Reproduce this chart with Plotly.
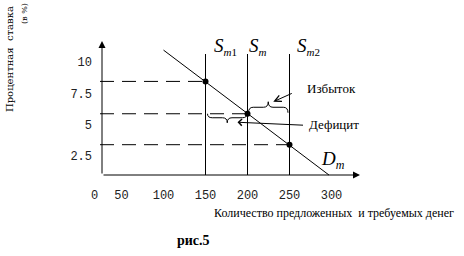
import plotly.graph_objects as go

# ---------------- data ----------------
supply_q = [150, 200, 250]                       # S_m1, S_m, S_m2
supply_subs = ["<i>m</i>1", "<i>m</i>", "<i>m</i>2"]
rate_at_supply = [8.45, 5.87, 3.40]              # points on the demand curve
demand_q = [100, 297]
demand_rate = [10.95, 0.98]
x_tickvals = [18, 50, 100, 150, 200, 250, 300]
x_ticktext = ["0", "50", "100", "150", "200", "250", "300"]
y_tickvals = [2.5, 5, 7.5, 10]
y_ticktext = ["2.5", "5", "7.5", "10"]

# ---------------- geometry helpers ----------------
W, H = 464, 256
L, R, T, B = 90, 0, 0, 76
X0PX, XS = 205.5, 0.84     # pixel of x=150, px per unit
Y0PX, YS = 62.0, 12.53     # pixel of y=10, px per unit

def vx(px): return 150 + (px - X0PX) / XS
def vy(py): return 10 - (py - Y0PX) / YS
def dx(p): return p / XS
def dy(p): return p / YS
def pxp(px): return (px - L) / (W - L - R)
def pyp(py): return (H - B - py) / (H - T - B)

axis_x = vx(102)
axis_y = vy(175)
top_lines = vy(54)

fig = go.Figure()
line_style = dict(color="black", width=1)

# demand curve
fig.add_trace(go.Scatter(x=demand_q, y=demand_rate, mode="lines", line=line_style, hoverinfo="skip"))
# supply verticals
for q in supply_q:
    fig.add_trace(go.Scatter(x=[q, q], y=[axis_y, top_lines], mode="lines", line=line_style, hoverinfo="skip"))
# dashed guides
for q, r in zip(supply_q, rate_at_supply):
    fig.add_trace(go.Scatter(x=[vx(100), q], y=[r, r], mode="lines",
                             line=dict(color="black", width=1, dash="14px,8px"), hoverinfo="skip"))
# points
fig.add_trace(go.Scatter(x=supply_q, y=rate_at_supply, mode="markers",
                         marker=dict(color="black", size=6), hoverinfo="skip"))

# braces
def brace(xa, xb, ye, ym, yc):
    w = xb - xa
    xm = (xa + xb) / 2
    k = 0.12 * w
    return (f"M{xa},{ye} Q{xa},{ym} {xa+k},{ym} L{xm-k},{ym} Q{xm},{ym} {xm},{yc} "
            f"Q{xm},{ym} {xm+k},{ym} L{xb-k},{ym} Q{xb},{ym} {xb},{ye}")

r_eq = rate_at_supply[1]
up = dict(xa=supply_q[1] + dx(1), xb=supply_q[2] - dx(1.5), ye=r_eq + dy(1), ym=r_eq + dy(6.5), yc=r_eq + dy(12))
lo = dict(xa=supply_q[0] + dx(2), xb=supply_q[1] - dx(0.5), ye=r_eq, ym=r_eq - dy(4), yc=r_eq - dy(9))
for b in (up, lo):
    fig.add_shape(type="path", path=brace(**b), xref="x", yref="y",
                  line=dict(color="black", width=1))

ann = []
# axis arrows
ann.append(dict(x=vx(360), y=axis_y, ax=axis_x, ay=axis_y, xref="x", yref="y", axref="x", ayref="y",
                text="", showarrow=True, arrowhead=2, arrowsize=1.4, arrowwidth=1, arrowcolor="black",
                standoff=0, startstandoff=0))
ann.append(dict(x=axis_x, y=vy(41), ax=axis_x, ay=axis_y, xref="x", yref="y", axref="x", ayref="y",
                text="", showarrow=True, arrowhead=2, arrowsize=1.4, arrowwidth=1, arrowcolor="black",
                standoff=0, startstandoff=0))
# pointer arrows
xm_up = (up["xa"] + up["xb"]) / 2
ann.append(dict(x=xm_up + dx(5), y=up["yc"], ax=xm_up + dx(25), ay=up["yc"] + dy(9),
                xref="x", yref="y", axref="x", ayref="y", text="", showarrow=True,
                arrowhead=5, arrowsize=1.3, arrowwidth=1, arrowcolor="black", standoff=0, startstandoff=0))
ann.append(dict(x=supply_q[1] - dx(10), y=r_eq - dy(8.5), ax=supply_q[1] + dx(57), ay=r_eq - dy(11.5),
                xref="x", yref="y", axref="x", ayref="y", text="", showarrow=True,
                arrowhead=4, arrowsize=1.3, arrowwidth=1, arrowcolor="black", standoff=0, startstandoff=0))

serif = "Liberation Serif"
# labels
ann.append(dict(x=vx(331), y=vy(88), xref="x", yref="y", text="Избыток", showarrow=False,
                xanchor="center", yanchor="middle", font=dict(family=serif, size=13, color="black")))
ann.append(dict(x=vx(334), y=vy(124.5), xref="x", yref="y", text="Дефицит", showarrow=False,
                xanchor="center", yanchor="middle", font=dict(family=serif, size=13, color="black")))
for px_left, sub in zip([212, 247, 295], supply_subs):
    ann.append(dict(x=vx(px_left), y=vy(46), xref="x", yref="y",
                    text=f"<i>S</i><sub><span style='font-size:11px'>{sub}</span></sub>", showarrow=False,
                    xanchor="left", yanchor="middle", font=dict(family=serif, size=19, color="black")))
ann.append(dict(x=vx(319), y=vy(160), xref="x", yref="y",
                text="<i>D</i><sub><span style='font-size:12px'><i>m</i></span></sub>",
                showarrow=False, xanchor="left", yanchor="middle",
                font=dict(family=serif, size=19, color="black")))
# titles
ann.append(dict(x=pxp(10), y=pyp(59), xref="paper", yref="paper", text="Процентная  ставка",
                xanchor="center", yanchor="middle",
                textangle=-90, showarrow=False, font=dict(family="DejaVu Serif", size=10, color="black")))
ann.append(dict(x=pxp(25), y=pyp(14), xref="paper", yref="paper", text="(в %)",
                xanchor="center", yanchor="middle",
                textangle=-90, showarrow=False, font=dict(family="DejaVu Serif", size=8, color="black")))
ann.append(dict(x=pxp(334), y=pyp(213), xref="paper", yref="paper",
                text="Количество предложенных  и требуемых денег", showarrow=False,
                xanchor="center", yanchor="middle",
                font=dict(family=serif, size=12, color="black")))
ann.append(dict(x=pxp(193.5), y=pyp(240), xref="paper", yref="paper", text="<b>рис.5</b>",
                xanchor="center", yanchor="middle",
                showarrow=False, font=dict(family=serif, size=14, color="black")))

fig.update_layout(
    width=W, height=H, margin=dict(l=L, r=R, t=T, b=B),
    paper_bgcolor="white", plot_bgcolor="white", showlegend=False,
    annotations=ann,
    xaxis=dict(range=[vx(L), vx(W - R)], showgrid=False, zeroline=False, showline=False, ticks="",
               tickvals=x_tickvals, ticktext=x_ticktext, ticklabelstandoff=6,
               tickfont=dict(family="Liberation Mono", size=12, color="#222")),
    yaxis=dict(range=[vy(H - B), vy(T)], showgrid=False, zeroline=False, showline=False, ticks="",
               tickvals=y_tickvals, ticktext=y_ticktext, anchor="free", position=pxp(102),
               ticklabelstandoff=10, tickfont=dict(family="Liberation Mono", size=12, color="#222")),
)

fig.write_html("out.html")
